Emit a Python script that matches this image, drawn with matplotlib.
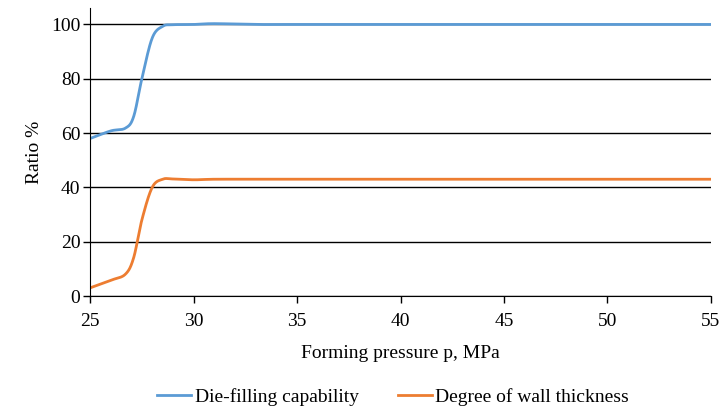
import numpy as np
import matplotlib.pyplot as plt

plt.rcParams['font.family'] = ['Liberation Serif', 'DejaVu Serif']

pressure = [25, 26, 26.7, 27.1, 27.5, 28, 28.5, 29, 30, 31, 33, 35, 40, 45, 50, 55]
die_filling = [58, 60.8, 61.8, 66, 80, 95, 99.3, 99.9, 100, 100.3, 100, 100, 100, 100, 100, 100]
wall_thickness = [3, 5.8, 8, 14, 28, 40, 43, 43.1, 42.8, 43, 43, 43, 43, 43, 43, 43]


def smooth(x, y, n=30):
    # Catmull-Rom style smoothing like a spreadsheet "smoothed line"
    x = np.asarray(x, float)
    y = np.asarray(y, float)
    px = np.concatenate([[2 * x[0] - x[1]], x, [2 * x[-1] - x[-2]]])
    py = np.concatenate([[2 * y[0] - y[1]], y, [2 * y[-1] - y[-2]]])
    xs, ys = [], []
    t = np.linspace(0, 1, n, endpoint=False)
    for i in range(1, len(px) - 2):
        for p, out in ((px, xs), (py, ys)):
            p0, p1, p2, p3 = p[i - 1], p[i], p[i + 1], p[i + 2]
            out.extend(0.5 * (2 * p1 + (-p0 + p2) * t
                              + (2 * p0 - 5 * p1 + 4 * p2 - p3) * t ** 2
                              + (-p0 + 3 * p1 - 3 * p2 + p3) * t ** 3))
    xs.append(x[-1])
    ys.append(y[-1])
    return np.array(xs), np.array(ys)


fig = plt.figure(figsize=(7.21, 4.08), dpi=100)
ax = fig.add_axes([0.125, 0.2745, 0.861, 0.7055])

bx, by = smooth(pressure, die_filling)
ox, oy = smooth(pressure, wall_thickness)
ax.plot(bx, by, color='#5B9BD5', lw=2, label='Die-filling capability')
ax.plot(ox, oy, color='#ED7D31', lw=2, label='Degree of wall thickness')

ax.set_xlim(25, 55)
ax.set_ylim(0, 106)
ax.set_xticks(range(25, 56, 5))
ax.set_yticks(range(0, 101, 20))
ax.grid(axis='y', color='black', lw=1)
ax.set_axisbelow(True)
for s in ('top', 'right'):
    ax.spines[s].set_visible(False)
ax.spines['left'].set_color('black')
ax.spines['bottom'].set_color('black')
ax.tick_params(labelsize=14, length=5, color='black', width=1)
ax.tick_params(axis='x', pad=7)
ax.tick_params(axis='y', pad=2)

ax.set_xlabel('Forming pressure p, MPa', fontsize=14, labelpad=11)
ax.set_ylabel('Ratio %', fontsize=14, labelpad=6)

fig.legend(loc='lower center', bbox_to_anchor=(0.545, -0.038), ncol=2,
           frameon=False, fontsize=14, handlelength=1.75, handletextpad=0.2,
           columnspacing=2.0)

fig.savefig('out.png', dpi=100)
